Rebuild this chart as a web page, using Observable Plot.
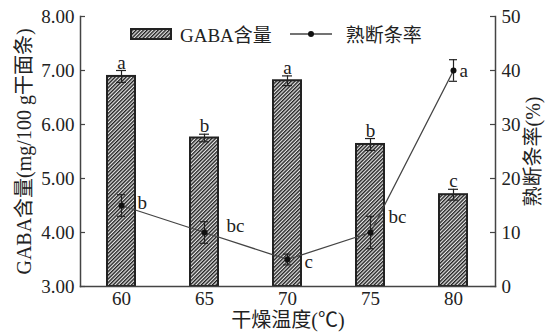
<!DOCTYPE html>
<html><head><meta charset="utf-8">
<script src="https://cdn.jsdelivr.net/npm/d3@7"></script>
<script src="https://cdn.jsdelivr.net/npm/@observablehq/plot@0.6"></script>
<style>
body{margin:0;background:#fff;}
#wrap{position:relative;width:549px;height:332px;font-family:'Liberation Serif','Noto Sans CJK SC',serif;color:#222;}
#legend{position:absolute;left:130px;top:20px;display:flex;align-items:center;font-size:19px;white-space:nowrap;}
#legend svg{display:block;}
</style></head><body><div id="wrap"></div>
<script>
const temps = ["60","65","70","75","80"];
const gaba = [6.89, 5.75, 6.81, 5.63, 4.70];
const gabaErr = [0.11, 0.07, 0.09, 0.11, 0.10];
const gabaLetters = ["a","b","a","b","c"];
const rate = [15, 10, 5, 10, 40];
const rateErr = [2, 2, 1, 3, 2];
const rateLetters = ["b","bc","c","bc","a"];
const leftTicks = [3,4,5,6,7,8];
const rightTicks = [0,10,20,30,40,50];

const rows = temps.map((t,i)=>({t, g:gaba[i], ge:gabaErr[i], gl:gabaLetters[i], r:rate[i], re:rateErr[i], rl:rateLetters[i]}));
const toL = r => 3 + r/10;
const W=549,H=332,ML=80,MR=54,MT=16,MB=46;
const innerW = W-ML-MR;
const ax = "#444";
// label nudges (style)
const nudge = [[16,-3],[22,-7],[17,2],[18,-16],[6,0]];

const plot = Plot.plot({
  width:W, height:H, marginLeft:ML, marginRight:MR, marginTop:MT, marginBottom:MB,
  style:{fontFamily:"'Liberation Serif','Noto Sans CJK SC',serif", fontSize:"18px", color:"#222", background:"transparent", overflow:"visible"},
  x:{domain:temps, paddingInner:0.66, paddingOuter:0.33, label:null},
  y:{domain:[3,8], label:null},
  marks:[
    Plot.barY(rows,{x:"t", y1:3, y2:"g", fill:"url(#hatch)", stroke:"#222", strokeWidth:2}),
    Plot.ruleX(rows,{x:"t", y1:d=>d.g-d.ge, y2:d=>d.g+d.ge, stroke:"#222", strokeWidth:1.2}),
    Plot.tickY(rows,{x:"t", y:d=>d.g+d.ge, insetLeft:9, insetRight:9, stroke:"#222", strokeWidth:1.2}),
    Plot.tickY(rows,{x:"t", y:d=>d.g-d.ge, insetLeft:9, insetRight:9, stroke:"#222", strokeWidth:1.2}),
    Plot.text(rows,{x:"t", y:d=>d.g+d.ge, text:"gl", lineAnchor:"bottom", dy:-2, fill:"#222", fontSize:19}),
    Plot.line(rows,{x:"t", y:d=>toL(d.r), stroke:"#444", strokeWidth:1.3}),
    Plot.ruleX(rows,{x:"t", y1:d=>toL(d.r-d.re), y2:d=>toL(d.r+d.re), stroke:"#222", strokeWidth:1.2}),
    Plot.tickY(rows,{x:"t", y:d=>toL(d.r+d.re), insetLeft:10, insetRight:10, stroke:"#222", strokeWidth:1.2}),
    Plot.tickY(rows,{x:"t", y:d=>toL(d.r-d.re), insetLeft:10, insetRight:10, stroke:"#222", strokeWidth:1.2}),
    Plot.dot(rows,{x:"t", y:d=>toL(d.r), r:3, fill:"#111", stroke:"none"}),
    ...rows.map((d,i)=>Plot.text([d],{x:"t", y:dd=>toL(dd.r), text:"rl", textAnchor:"start", dx:nudge[i][0], dy:nudge[i][1], fill:"#222", fontSize:19})),
    Plot.frame({anchor:"left", stroke:ax, strokeWidth:1.5}),
    Plot.frame({anchor:"right", stroke:ax, strokeWidth:1.5}),
    Plot.frame({anchor:"bottom", stroke:ax, strokeWidth:1.5}),
    Plot.tickY(leftTicks,{y:d=>d, insetRight:innerW-5, stroke:ax, strokeWidth:1.2}),
    Plot.tickY(rightTicks,{y:d=>toL(d), insetLeft:innerW-5, stroke:ax, strokeWidth:1.2}),
    Plot.axisY({anchor:"left", ticks:leftTicks, tickFormat:d=>d.toFixed(2), tickSize:0, tickPadding:6, fontSize:19, label:null}),
    Plot.axisY({anchor:"left", ticks:[], tickSize:0, fontSize:20,
      label:"GABA含量(mg/100 g干面条)", labelAnchor:"center", labelOffset:64, labelArrow:false}),
    Plot.axisY({anchor:"right", ticks:rightTicks.map(toL), tickFormat:d=>String(Math.round((d-3)*10)), tickSize:0, tickPadding:6, fontSize:19, label:null}),
    Plot.axisY({anchor:"right", ticks:[], tickSize:0, fontSize:20,
      label:"熟断条率(%)", labelAnchor:"center", labelOffset:44, labelArrow:false}),
    Plot.axisX({tickSize:0, tickPadding:5, fontSize:19, label:null}),
    Plot.axisX({ticks:[], tickSize:0, fontSize:20, label:"干燥温度(℃)", labelAnchor:"center", labelOffset:40, labelArrow:false})
  ]
});
d3.select(plot).insert("defs", ":first-child").html(
  '<pattern id="hatch" patternUnits="userSpaceOnUse" width="2.6" height="2.6" patternTransform="rotate(45)">' +
  '<rect width="2.6" height="2.6" fill="#e8e8e8"/><line x1="0.7" y1="0" x2="0.7" y2="2.6" stroke="#222" stroke-width="1.4"/></pattern>');
const wrap = document.getElementById("wrap");
wrap.appendChild(plot);
const lg = document.createElement("div");
lg.id = "legend";
lg.innerHTML =
  '<svg width="42" height="12"><rect x="1" y="1" width="40" height="10" fill="url(#hatch)" stroke="#222" stroke-width="2"/></svg>' +
  '<span style="margin-left:8px">GABA含量</span>' +
  '<svg width="42" height="12" style="margin-left:18px"><line x1="0" y1="6" x2="42" y2="6" stroke="#444" stroke-width="1.3"/><circle cx="21" cy="6" r="3" fill="#111"/></svg>' +
  '<span style="margin-left:14px">熟断条率</span>';
wrap.appendChild(lg);
</script></body></html>
